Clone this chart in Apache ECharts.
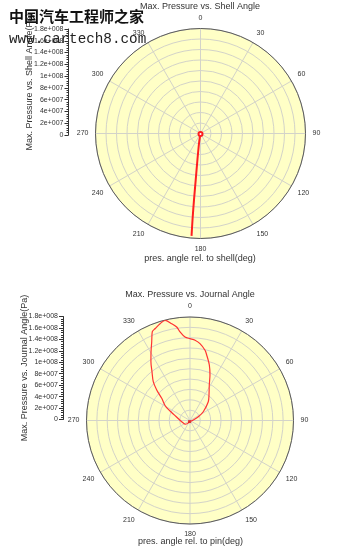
<!DOCTYPE html>
<html><head><meta charset="utf-8">
<script src="https://cdn.jsdelivr.net/npm/echarts@6/dist/echarts.min.js"></script>
<style>html,body{margin:0;padding:0;background:#fff}#c{width:357px;height:549px}</style>
</head><body><div id="c"></div><script>
// ---- data ----
const angleLabels = ['0','30','60','90','120','150','180','210','240','270','300','330'];
const radialTickLabels = ['0','2e+007','4e+007','6e+007','8e+007','1e+008','1.2e+008','1.4e+008','1.6e+008','1.8e+008'];

const shellAngle    = [180, 190, 188.8, 186.7, 185.9, 185.6, 185.3, 185.0];
const shellPressure = [1e6, 4.3e6, 1.56e7, 4.44e7, 7.87e7, 1.131e8, 1.476e8, 1.762e8];

const journalAngle = [200, 228.5, 261.8, 286, 299.4, 308.1, 312.5, 316.6, 322.1, 326.4, 330.5, 334.1, 337, 339.3,
  342.8, 346, 349.3, 351.9, 353.6, 356.6, 0, 3.6, 7.4, 12.1, 14.3, 19.2, 23.7, 28.5, 36.7, 44.2, 56.5, 65.4, 81, 120];
const journalPressure = [2e6, 9.9e6, 1.46e7, 2.53e7, 4.79e7, 6.25e7, 7.85e7, 9.3e7, 1.076e8, 1.228e8, 1.376e8, 1.524e8, 1.678e8, 1.71e8,
  1.762e8, 1.796e8, 1.713e8, 1.642e8, 1.55e8, 1.454e8, 1.423e8, 1.398e8, 1.347e8, 1.249e8, 1.176e8, 1.022e8, 8.64e7, 7.03e7, 5.53e7, 4.56e7, 2.77e7, 1.59e7, 5.8e6, 2e6];

const titles = ['Max. Pressure vs. Shell Angle', 'Max. Pressure vs. Journal Angle'];
const radialNames = ['Max. Pressure vs. Shell Angle(Pa)', 'Max. Pressure vs. Journal Angle(Pa)'];
const angleNames = ['pres. angle rel. to shell(deg)', 'pres. angle rel. to pin(deg)'];

// ---- chart ----
const FONT = 'Liberation Sans, Arial, sans-serif';
const GRIDC = '#d3d3c9';
const TXT = '#333';
const chart = echarts.init(document.getElementById('c'), null, {renderer:'canvas'});

// polar indices: 0 = top background, 1 = top foreground, 2 = bottom background, 3 = bottom foreground
function bgAngleAxis(i){
  return {polarIndex:i, type:'value', min:0, max:360, interval:30, z:0,
    axisLine:{show:false}, axisTick:{show:false}, axisLabel:{show:false}, splitLine:{show:false}};
}
function bgRadiusAxis(i){
  return {polarIndex:i, type:'value', min:0, max:1.8e8, interval:1.8e7, z:0,
    axisLine:{show:false}, axisTick:{show:false}, axisLabel:{show:false}, splitLine:{show:false},
    splitArea:{show:true, areaStyle:{color:['#ffffc6']}}};
}
function angleAxis(i){
  return {polarIndex:i, type:'value', min:0, max:360, interval:30, startAngle:90, clockwise:true, z:3,
    axisLine:{show:true, lineStyle:{color:'#5a5a5a', width:1}},
    axisTick:{show:false},
    axisLabel:{show:true, fontSize:7, color:TXT, margin:7, fontFamily:FONT,
      formatter:(v)=>{ const k = Math.round(v/30); return (v < 360 && angleLabels[k] !== undefined) ? angleLabels[k] : ''; }},
    splitLine:{show:true, lineStyle:{color:GRIDC, width:1}}};
}
function radiusAxis(i){
  return {polarIndex:i, type:'value', min:0, max:1.8e8, interval:1.8e7, z:2,
    axisLine:{show:false}, axisTick:{show:false}, axisLabel:{show:false},
    splitLine:{show:true, lineStyle:{color:GRIDC, width:1}}};
}
function yAxis(i){
  return {gridIndex:i, type:'value', min:0, max:1.8e8, interval:2e7, position:'left',
    axisLine:{show:true, onZero:false, lineStyle:{color:'#333', width:1}},
    axisTick:{show:true, length:4, lineStyle:{color:'#333'}},
    minorTick:{show:true, splitNumber:5, length:2, lineStyle:{color:'#333'}},
    splitLine:{show:false},
    axisLabel:{fontSize:7, color:TXT, margin:5, fontFamily:FONT,
      formatter:(v)=>radialTickLabels[Math.round(v/2e7)] ?? ''},
    name:radialNames[i], nameLocation:'middle', nameGap:34, nameRotate:90, nameMoveOverlap:false,
    nameTextStyle:{fontSize:9, color:TXT, fontFamily:FONT}};
}

const shellData = shellPressure.map((p,k)=> k===0 ? {value:[p, shellAngle[k]], symbol:'emptyCircle', symbolSize:4} : [p, shellAngle[k]]);
const journalData = journalPressure.map((p,k)=>[p, journalAngle[k]]);

function txt(x,y,s,size,extra){
  return {type:'text', x:x, y:y, silent:true, z:100,
    style:Object.assign({text:s, fontSize:size, fontFamily:FONT, fill:TXT, align:'center', verticalAlign:'middle'}, extra||{})};
}

const topPolar = {center:[200.5,133.5], radius:105};
const botPolar = {center:[190,420.5], radius:103.5};

chart.setOption({
  animation:false,
  textStyle:{fontFamily:FONT},
  polar:[topPolar, topPolar, botPolar, botPolar],
  angleAxis:[bgAngleAxis(0), angleAxis(1), bgAngleAxis(2), angleAxis(3)],
  radiusAxis:[bgRadiusAxis(0), radiusAxis(1), bgRadiusAxis(2), radiusAxis(3)],
  grid:[{left:68.5, top:29, width:1, height:106, containLabel:false, outerBoundsMode:'none'},
        {left:63, top:316.5, width:1, height:103, containLabel:false, outerBoundsMode:'none'}],
  xAxis:[{gridIndex:0, type:'value', show:false}, {gridIndex:1, type:'value', show:false}],
  yAxis:[yAxis(0), yAxis(1)],
  series:[
    {type:'line', coordinateSystem:'polar', polarIndex:1, data:shellData, symbol:'none', showSymbol:true, z:10,
     smooth:0.3, lineStyle:{color:'#ff1f1f', width:2}, itemStyle:{color:'#ff1f1f', borderColor:'#e02020'}, silent:true},
    {type:'line', coordinateSystem:'polar', polarIndex:3, data:journalData, symbol:'none', z:10,
     smooth:0.3, lineStyle:{color:'#ff3333', width:1.2}, silent:true},
    {type:'scatter', coordinateSystem:'polar', polarIndex:3, data:[[journalPressure[0], journalAngle[0]]], z:11,
     symbol:'rect', symbolSize:3, itemStyle:{color:'#e01010'}, silent:true}
  ],
  graphic:[
    txt(200, 6.5, titles[0], 9),
    txt(190, 295, titles[1], 9),
    txt(200, 258.5, angleNames[0], 9),
    txt(190.5, 541.5, angleNames[1], 9),
    {type:'text', x:9, y:16.5, silent:true, z:200,
     style:{text:'中国汽车工程师之家', fontSize:15, fontWeight:'bold', fontFamily:'Noto Sans CJK SC', fill:'#111', align:'left', verticalAlign:'middle'}},
    {type:'text', x:9, y:39.5, silent:true, z:200,
     style:{text:'www.cartech8.com', fontSize:14.3, fontFamily:'Liberation Mono, DejaVu Sans Mono, monospace', fill:'#222', align:'left', verticalAlign:'middle'}}
  ]
});
</script></body></html>
